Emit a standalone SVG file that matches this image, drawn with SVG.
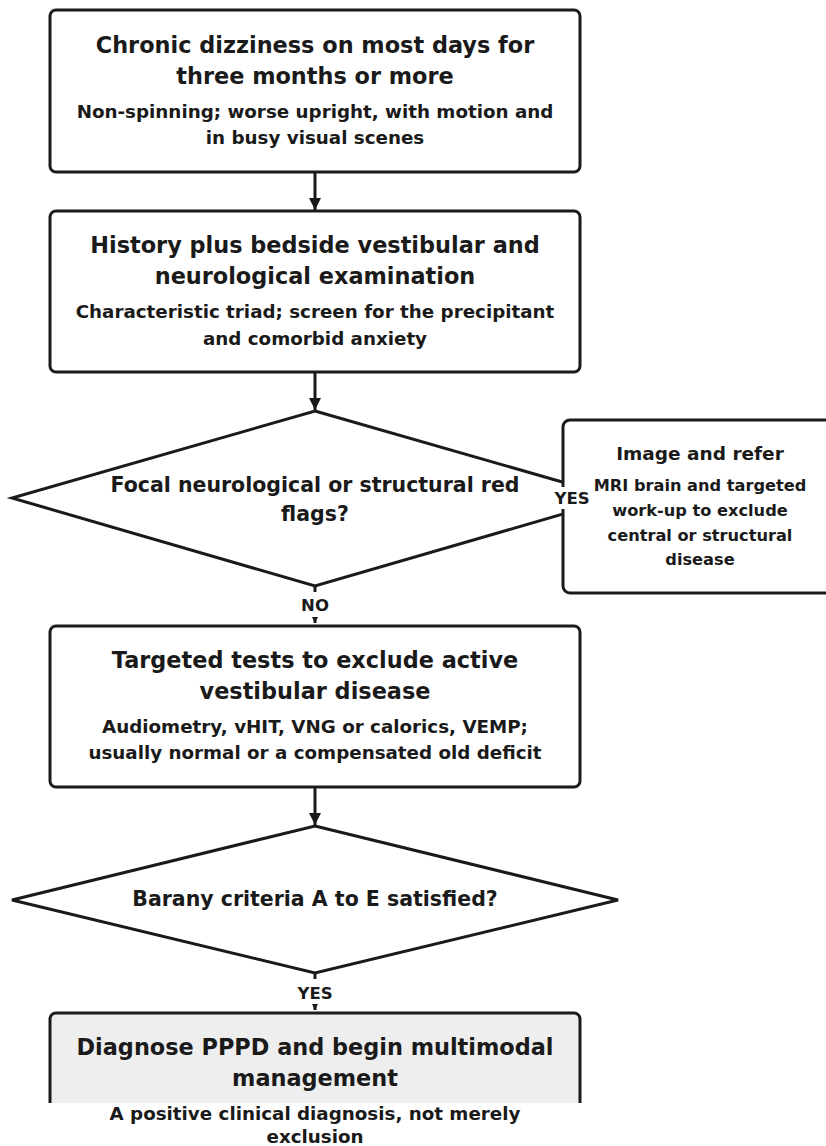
<svg xmlns="http://www.w3.org/2000/svg" width="826" height="1146" viewBox="0 0 826 1146">
<defs>
<style>
text{font-family:"DejaVu Sans","Liberation Sans",sans-serif;font-weight:bold;fill:#1a1a1a;text-anchor:middle}
.t{font-size:22.4px}
.s{font-size:18.3px}
.d{font-size:20.5px}
.it{font-size:18.5px}
.is{font-size:16.2px}
.l{font-size:16.5px}
.box{fill:#fff;stroke:#1a1a1a;stroke-width:3}
.edge{stroke:#1a1a1a;stroke-width:3;fill:none}
</style>
<marker id="ah" markerWidth="12" markerHeight="12" viewBox="0 0 12 12" refX="12" refY="6" orient="auto" markerUnits="userSpaceOnUse">
<path d="M0,0 L12,6 L0,12 Z" fill="#1a1a1a"/>
</marker>
<marker id="sm" markerWidth="6" markerHeight="6" viewBox="0 0 6 6" refX="6" refY="3" orient="auto" markerUnits="userSpaceOnUse">
<path d="M0,0 L6,3 L0,6 Z" fill="#1a1a1a"/>
</marker>
<clipPath id="clip4"><rect x="0" y="0" width="826" height="1103"/></clipPath>
</defs>
<g id="connectors">
<line class="edge" x1="315" y1="172" x2="315" y2="210" marker-end="url(#ah)"/>
<line class="edge" x1="315" y1="372" x2="315" y2="410" marker-end="url(#ah)"/>
<line class="edge" x1="315" y1="586" x2="315" y2="623" marker-end="url(#sm)"/>
<line class="edge" x1="315" y1="787" x2="315" y2="825" marker-end="url(#ah)"/>
<line class="edge" x1="315" y1="973" x2="315" y2="1010" marker-end="url(#sm)"/>
</g>
<g id="n1">
<rect class="box" x="50" y="10" width="530" height="162" rx="6"/>
<text class="t" x="315" y="53">Chronic dizziness on most days for</text>
<text class="t" x="315" y="84">three months or more</text>
<text class="s" x="315" y="118">Non-spinning; worse upright, with motion and</text>
<text class="s" x="315" y="144">in busy visual scenes</text>
</g>
<g id="n2">
<rect class="box" x="50" y="211" width="530" height="161" rx="6"/>
<text class="t" x="315" y="253">History plus bedside vestibular and</text>
<text class="t" x="315" y="284">neurological examination</text>
<text class="s" x="315" y="318">Characteristic triad; screen for the precipitant</text>
<text class="s" x="315" y="345">and comorbid anxiety</text>
</g>
<g id="d1">
<polygon class="box" points="315,411 618,498 315,586 12,498"/>
<text class="d" x="315" y="492">Focal neurological or structural red</text>
<text class="d" x="315" y="521">flags?</text>
</g>
<g id="n_image">
<rect class="box" x="563" y="420" width="280" height="173" rx="7"/>
<text class="it" x="700" y="460">Image and refer</text>
<text class="is" x="700" y="491">MRI brain and targeted</text>
<text class="is" x="700" y="516">work-up to exclude</text>
<text class="is" x="700" y="541">central or structural</text>
<text class="is" x="700" y="565">disease</text>
</g>
<g id="labels">
<rect x="554" y="487" width="36" height="22" fill="#fff"/>
<text class="l" x="572" y="504">YES</text>
<rect x="297" y="592" width="36" height="25" fill="#fff"/>
<text class="l" x="315" y="611">NO</text>
<rect x="294" y="979" width="42" height="25" fill="#fff"/>
<text class="l" x="315" y="999">YES</text>
</g>
<g id="n3">
<rect class="box" x="50" y="626" width="530" height="161" rx="6"/>
<text class="t" x="315" y="668">Targeted tests to exclude active</text>
<text class="t" x="315" y="699">vestibular disease</text>
<text class="s" x="315" y="733">Audiometry, vHIT, VNG or calorics, VEMP;</text>
<text class="s" x="315" y="759">usually normal or a compensated old deficit</text>
</g>
<g id="d2">
<polygon class="box" points="315,826 618,900 315,973 12,900"/>
<text class="d" x="315" y="906">Barany criteria A to E satisfied?</text>
</g>
<g id="n4">
<rect clip-path="url(#clip4)" x="50" y="1013" width="530" height="160" rx="6" fill="#eeeeee" stroke="#1a1a1a" stroke-width="3"/>
<text class="t" x="315" y="1055">Diagnose PPPD and begin multimodal</text>
<text class="t" x="315" y="1086">management</text>
<text class="s" x="315" y="1120">A positive clinical diagnosis, not merely</text>
<text class="s" x="315" y="1143">exclusion</text>
</g>
</svg>
